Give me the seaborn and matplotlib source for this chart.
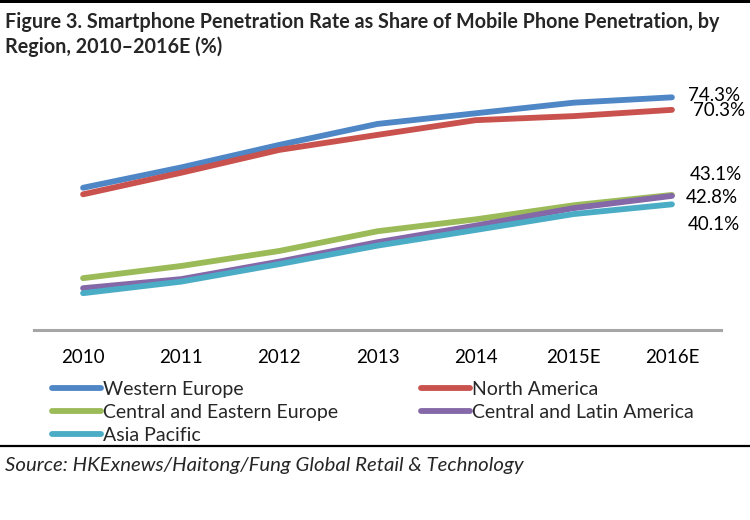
import pandas as pd
import matplotlib
matplotlib.use("Agg")
import matplotlib.pyplot as plt
from matplotlib.lines import Line2D
from matplotlib.patches import Rectangle
import seaborn as sns

# --- DATA ---
years = ["2010", "2011", "2012", "2013", "2014", "2015E", "2016E"]
western_europe = [45.4, 51.9, 59.1, 65.8, 69.2, 72.6, 74.3]
north_america = [43.3, 50.2, 57.5, 62.3, 67.0, 68.3, 70.3]
central_eastern_europe = [16.5, 20.4, 25.2, 31.5, 35.3, 39.8, 43.1]
central_latin_america = [13.3, 16.2, 21.8, 28.0, 33.3, 38.9, 42.8]
asia_pacific = [11.7, 15.4, 21.0, 26.9, 31.9, 37.0, 40.1]

regions = ["Western Europe", "North America", "Central and Eastern Europe",
           "Central and Latin America", "Asia Pacific"]
colors = ["#4F86C6", "#C9524E", "#9BBB59", "#8468A8", "#4BACC6"]
end_labels = ["74.3%", "70.3%", "43.1%", "42.8%", "40.1%"]

series = [western_europe, north_america, central_eastern_europe,
          central_latin_america, asia_pacific]
df = pd.DataFrame({
    "year": years * len(regions),
    "region": [r for r in regions for _ in years],
    "value": [v for s in series for v in s],
})

# --- STYLE ---
sns.set_theme(style="white")
plt.rcParams["font.family"] = ["Lato", "DejaVu Sans"]

W, H = 750, 520
fig = plt.figure(figsize=(W / 100, H / 100), dpi=100)
ax = fig.add_axes([34 / W, 1 - 329.8 / H, 687 / W, 250.3 / H])

sns.lineplot(data=df, x="year", y="value", hue="region", hue_order=regions,
             palette=colors, linewidth=4.2, ax=ax, legend=False,
             solid_capstyle="round")

ax.set_xlim(-0.5, 6.5)
ax.set_ylim(0, 80)
ax.set_xlabel("")
ax.set_ylabel("")
ax.set_yticks([])
for side in ["top", "right", "left"]:
    ax.spines[side].set_visible(False)
ax.spines["bottom"].set_color("#A6A6A6")
ax.spines["bottom"].set_linewidth(2.2)
ax.tick_params(axis="x", length=0, pad=14, labelsize=13.5, colors="black")
ax.patch.set_alpha(0)

# end-of-line value labels
offsets = [(16, 2), (21, -1), (18, 20), (14, -2), (16, -20)]
for s, txt, off in zip(series, end_labels, offsets):
    ax.annotate(txt, xy=(6, s[-1]), xytext=off, textcoords="offset pixels",
                ha="left", va="center", fontsize=13.5, color="black",
                annotation_clip=False)

# --- LEGEND (two columns, row-major like the original) ---
def handles(idx):
    return [Line2D([0], [0], color=colors[i], lw=4.2, solid_capstyle="round")
            for i in idx]

leg_kw = dict(loc="upper left", frameon=False, fontsize=14, borderpad=0,
              borderaxespad=0, handlelength=2.5, handletextpad=0.12,
              labelspacing=0.3)
left_idx, right_idx = [0, 2, 4], [1, 3]
leg1 = fig.legend(handles(left_idx), [regions[i] for i in left_idx],
                  bbox_to_anchor=(52 / W, 1 - 381 / H), **leg_kw)
leg2 = fig.legend(handles(right_idx), [regions[i] for i in right_idx],
                  bbox_to_anchor=(421 / W, 1 - 381 / H), **leg_kw)

# --- TITLE, RULES, SOURCE ---
fig.add_artist(Rectangle((0, 1 - 3 / H), 1, 3 / H, transform=fig.transFigure,
                         color="black", lw=0))
fig.text(5 / W, 1 - 22 / H,
         "Figure 3. Smartphone Penetration Rate as Share of Mobile Phone Penetration, by",
         ha="left", va="center", fontsize=14.2, fontweight="bold")
fig.text(5 / W, 1 - 47 / H, "Region, 2010\u20132016E (%)",
         ha="left", va="center", fontsize=14.2, fontweight="bold")
fig.add_artist(Line2D([0, 1], [1 - 446 / H] * 2, transform=fig.transFigure,
                      color="black", lw=1.6))
fig.text(5 / W, 1 - 466 / H,
         "Source: HKExnews/Haitong/Fung Global Retail & Technology",
         ha="left", va="center", fontsize=14.7, style="italic")

fig.savefig("out.png", dpi=100, facecolor="white")
